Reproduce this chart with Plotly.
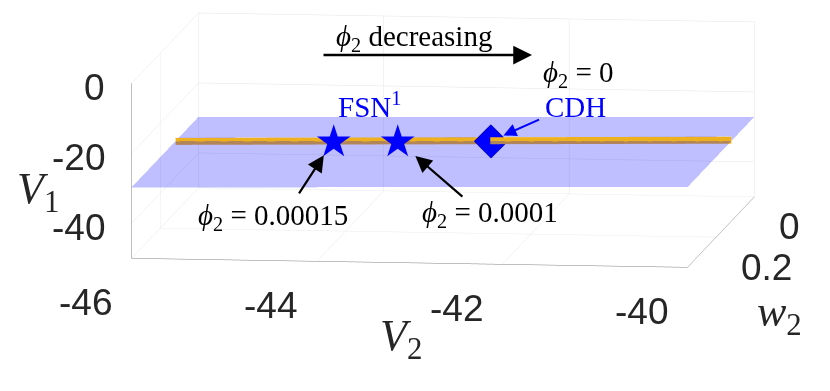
import plotly.graph_objects as go

# axes
v2_range = [-46, -40]
w2_range = [0, 0.35]
v1_range = [-50, 0]
v2_ticks = [-46, -44, -42, -40]
w2_ticks = [0, 0.2]
v1_ticks = [-40, -20, 0]

# shaded plane (corners)
plane_v2 = [-46, -40, -40, -46]
plane_w2 = [0, 0, 0.35, 0.35]
plane_v1 = [-29.7, -27.1, -27.1, -29.7]

# branch of equilibria
eq_v2 = [-46, -40]
eq_w2 = [0.12, 0.12]
eq_v1 = [-29.8, -26.9]

# folded saddle-node points
fsn_v2 = [-44.3, -43.6]
fsn_w2 = [0.12, 0.12]
fsn_v1 = [-28.95, -28.65]
fsn_phi = ["0.00015", "0.0001"]

# CDH point
cdh_v2 = [-42.6]
cdh_w2 = [0.12]
cdh_v1 = [-28.25]

# w2 grows towards the viewer, so plot it flipped
def flip(w):
    return [-v for v in w]

fig = go.Figure()

fig.add_trace(go.Mesh3d(
    x=plane_v2, y=flip(plane_w2), z=plane_v1,
    i=[0, 0], j=[1, 2], k=[2, 3],
    color='rgb(0,0,255)', opacity=0.25,
    flatshading=True,
    lighting=dict(ambient=1, diffuse=0, specular=0, fresnel=0, roughness=1),
    hoverinfo='skip', showscale=False
))

fig.add_trace(go.Scatter3d(
    x=eq_v2, y=flip(eq_w2), z=eq_v1,
    mode='lines', line=dict(color='#EDB120', width=14),
    hoverinfo='skip', showlegend=False
))

fig.add_trace(go.Scatter3d(
    x=cdh_v2, y=flip(cdh_w2), z=cdh_v1,
    mode='markers', marker=dict(symbol='diamond', size=11, color='blue',
                                line=dict(color='#00008b', width=1)),
    hoverinfo='skip', showlegend=False
))

serif = 'Liberation Serif'
sans = 'Liberation Sans'
tick_font = dict(family=sans, size=37, color='#262626')
title_font = dict(family=serif, size=44, color='#262626')
lab = dict(family=serif, size=29, color='black')
blue_lab = dict(family=serif, size=29, color='blue')
phi = '<i>ϕ</i><sub>2</sub>'
ann = []

# FSN stars
for xv, yv, zv in zip(fsn_v2, fsn_w2, fsn_v1):
    ann.append(dict(x=xv, y=-yv, z=zv, text='★', showarrow=False,
                    font=dict(family='DejaVu Sans', size=44, color='blue')))
# arrows to the FSN points
for xv, yv, zv, ax, ay, sd in [(fsn_v2[0], fsn_w2[0], fsn_v1[0], -35, 54, 17),
                                (fsn_v2[1], fsn_w2[1], fsn_v1[1], 66, 57, 23)]:
    ann.append(dict(x=xv, y=-yv, z=zv, text='', showarrow=True, ax=ax, ay=ay,
                    arrowhead=2, arrowsize=1.5, arrowwidth=2.2, arrowcolor='black', standoff=sd))
# phi labels below
for xv, yv, zv, val, xs, ys in [(fsn_v2[0], fsn_w2[0], fsn_v1[0], fsn_phi[0], -60, -76),
                                 (fsn_v2[1], fsn_w2[1], fsn_v1[1], fsn_phi[1], 92, -73)]:
    ann.append(dict(x=xv, y=-yv, z=zv, text=phi + ' = ' + val, showarrow=False,
                    xshift=xs, yshift=ys, font=lab))
ann.append(dict(x=fsn_v2[0], y=-fsn_w2[0], z=fsn_v1[0], text='FSN<sup>1</sup>', showarrow=False,
                xshift=36, yshift=36, font=blue_lab))
ann.append(dict(x=cdh_v2[0], y=-cdh_w2[0], z=cdh_v1[0], text='CDH', showarrow=False,
                xshift=85, yshift=34, font=blue_lab))
ann.append(dict(x=cdh_v2[0], y=-cdh_w2[0], z=cdh_v1[0], text='', showarrow=True, ax=50, ay=-22,
                arrowhead=2, arrowsize=1.3, arrowwidth=2, arrowcolor='blue', standoff=14))

# tick labels and axis titles, placed at the box edges
for v in v2_ticks:
    ann.append(dict(x=v, y=-w2_range[1], z=v1_range[0], text=str(v), showarrow=False,
                    xshift=-46, yshift=-44, font=tick_font))
for v in v1_ticks:
    ann.append(dict(x=v2_range[0], y=-w2_range[1], z=v, text=str(v), showarrow=False,
                    xanchor='right', xshift=-25, yshift=-4, font=tick_font))
for v in w2_ticks:
    ann.append(dict(x=v2_range[1], y=-v, z=v1_range[0], text=str(v), showarrow=False,
                    xanchor='left', xshift=23, yshift=-30, font=tick_font))
ann.append(dict(x=-43, y=-w2_range[1], z=v1_range[0], text='<i>V</i><sub>2</sub>', showarrow=False,
                xshift=-9, yshift=-76, font=title_font))
ann.append(dict(x=v2_range[0], y=-w2_range[1], z=-25, text='<i>V</i><sub>1</sub>', showarrow=False,
                xshift=-94, yshift=-21, font=title_font))
ann.append(dict(x=v2_range[1], y=-0.175, z=v1_range[0], text='<i>w</i><sub>2</sub>', showarrow=False,
                xshift=59, yshift=-82, font=title_font))

axis_common = dict(
    showbackground=False, showgrid=True, gridcolor='#e5e5e5', gridwidth=1,
    showline=True, linecolor='#808080', linewidth=1, zeroline=False,
    ticks='', showticklabels=False, showspikes=False, title=dict(text=''),
)

k = 2.865  # overall size of the box in scene units
cam_dir = (0.1220, -0.9839, 0.1305)
cam_c = (-0.048 * k, -0.019 * k, -0.098 * k)
dist = 3.0

fig.update_layout(
    width=830, height=391,
    margin=dict(l=0, r=0, t=0, b=0),
    paper_bgcolor='white',
    showlegend=False,
    scene=dict(
        domain=dict(x=[0, 1], y=[0, 1]),
        xaxis=dict(axis_common, range=v2_range, tickvals=v2_ticks),
        yaxis=dict(axis_common, range=[-w2_range[1], -w2_range[0]], tickvals=flip(w2_ticks)),
        zaxis=dict(axis_common, range=v1_range, tickvals=v1_ticks),
        aspectmode='manual',
        aspectratio=dict(x=1 * k, y=0.971 * k, z=0.315 * k),
        camera=dict(
            projection=dict(type='orthographic'),
            up=dict(x=0, y=0, z=1),
            center=dict(x=cam_c[0], y=cam_c[1], z=cam_c[2]),
            eye=dict(x=cam_c[0] + dist * cam_dir[0], y=cam_c[1] + dist * cam_dir[1],
                     z=cam_c[2] + dist * cam_dir[2]),
        ),
        annotations=ann,
    ),
    annotations=[
        dict(xref='paper', yref='paper', x=414 / 830, y=1 - 38 / 391, xanchor='center', yanchor='middle',
             text=phi + ' decreasing', showarrow=False, font=lab),
        dict(xref='paper', yref='paper', x=532 / 830, y=1 - 55 / 391, text='', showarrow=True,
             ax=-210, ay=0, arrowhead=2, arrowsize=1.5, arrowwidth=2.5, arrowcolor='black'),
        dict(xref='paper', yref='paper', x=578 / 830, y=1 - 74 / 391, xanchor='center', yanchor='middle',
             text=phi + ' = 0', showarrow=False, font=lab),
    ],
)

fig.write_html("out.html", config={'displayModeBar': False},
               post_script="document.body.style.margin = '0';")
